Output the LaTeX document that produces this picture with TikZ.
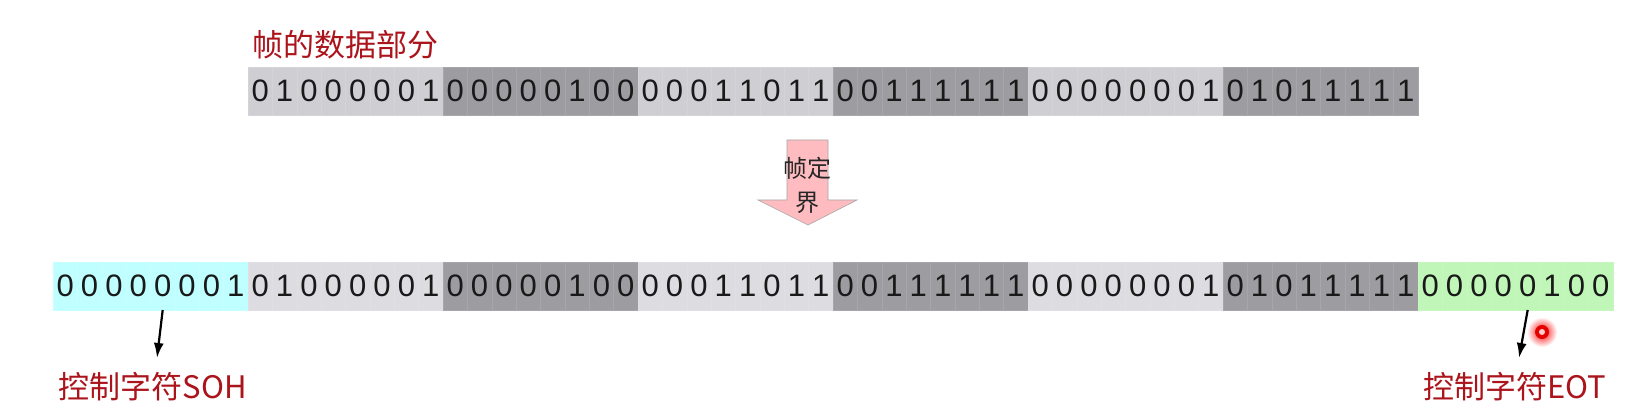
\documentclass[tikz,border=0pt]{standalone}
\usepackage{fontspec}
\setmainfont{Liberation Sans}
\newfontfamily\cjk{Noto Sans CJK SC}
\usetikzlibrary{arrows.meta, positioning}
\definecolor{TopLight}{RGB}{207,206,211}
\definecolor{TopDark}{RGB}{157,156,160}
\definecolor{BotLight}{RGB}{221,220,224}
\definecolor{BotDark}{RGB}{157,156,160}
\definecolor{SohCyan}{RGB}{192,255,255}
\definecolor{EotGreen}{RGB}{192,246,184}
\definecolor{LabelRed}{RGB}{172,20,28}
\definecolor{ArrowPink}{RGB}{255,188,192}
\tikzset{
  >=Latex,
  % Celle dei bit
  bit/.style={minimum width=24.375pt,minimum height=48pt,inner sep=0pt,outer sep=0pt,
    line width=0.5pt,font=\fontsize{31}{33}\selectfont,text=black!90},
  % Etichette rosse
  label red/.style={font=\cjk\fontsize{31}{34}\selectfont,text=LabelRed,inner sep=0pt},
  pointer/.style={->,line width=2.2pt,>={Latex[length=15pt,width=10pt]}}
}

\begin{document}
\begin{tikzpicture}[x=1pt,y=-1pt]
  \fill[white] (0,0) rectangle (1644,419);
  \useasboundingbox (0,0) rectangle (1644,419);
  % riga superiore: dati
  \node[label red,anchor=west] (data) at (252,45) {帧的数据部分};
  \foreach \col/\byte [count=\i] in {TopLight/{0,1,0,0,0,0,0,1},TopDark/{0,0,0,0,0,1,0,0},
      TopLight/{0,0,0,1,1,0,1,1},TopDark/{0,0,1,1,1,1,1,1},
      TopLight/{0,0,0,0,0,0,0,1},TopDark/{0,1,0,1,1,1,1,1}}
    \foreach \bit [count=\j] in \byte
      \node[bit,fill=\col,draw=\col!90!white] (t-\i-\j) at ({248+(\i-1)*195+(\j-0.5)*24.375},91) {\bit};
  % freccia
  \filldraw[fill=ArrowPink,draw=gray!70,line width=0.6pt]
    (787,140) -- (828,140) -- (828,200) -- (857,200) -- (808,225) -- (758,200) -- (787,200) -- cycle;
  \node[font=\cjk\fontsize{24}{34}\selectfont,text=black!85,align=center,inner sep=0pt] (frame) at (807,185) {帧定\\界};
  % riga inferiore: frame
  \foreach \col/\byte [count=\i] in {SohCyan/{0,0,0,0,0,0,0,1},BotLight/{0,1,0,0,0,0,0,1},
      BotDark/{0,0,0,0,0,1,0,0},BotLight/{0,0,0,1,1,0,1,1},BotDark/{0,0,1,1,1,1,1,1},
      BotLight/{0,0,0,0,0,0,0,1},BotDark/{0,1,0,1,1,1,1,1},EotGreen/{0,0,0,0,0,1,0,0}}
    \foreach \bit [count=\j] in \byte
      \node[bit,fill=\col,draw=\col!90!white] (b-\i-\j) at ({53+(\i-1)*195+(\j-0.5)*24.375},286) {\bit};
  % caratteri di controllo
  \coordinate (soh tip) at (157,358);
  \coordinate (eot tip) at (1519,358);
  \draw[pointer] (b-1-5.south) -- (soh tip);
  \draw[pointer] (b-8-5.south) -- (eot tip);
  \node[label red] (soh) at (153,387) {控制字符SOH};
  \node[label red] (eot) at (1515,387) {控制字符EOT};
  % puntatore laser
  \shade[inner color=red,outer color=white] (1542,332) circle (15);
  \fill[red!90!black] (1542,332) circle (7);
  \fill[red!20!white] (1542,332) circle (3);
\end{tikzpicture}
\end{document}
